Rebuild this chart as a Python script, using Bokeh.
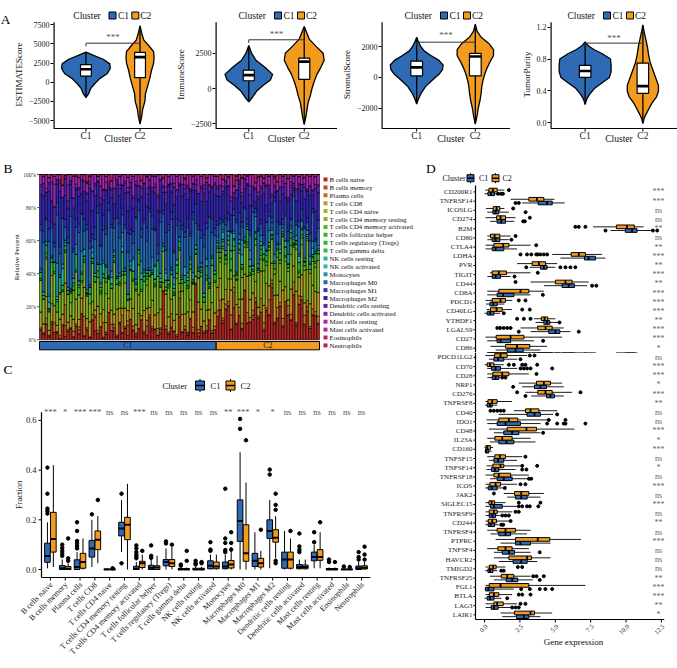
import math
import colorsys
from bokeh.plotting import figure
from bokeh.models import ColumnDataSource, FixedTicker, Range1d, NumeralTickFormatter
from bokeh.core.properties import value
from bokeh.layouts import row, column
from bokeh.embed import file_html
from bokeh.resources import INLINE

FONT = "Liberation Serif"
BLUE = "#2E6BB4"
ORANGE = "#F29B1F"
SIGC = "#555555"

# ============================ DATA ============================
clusters = ["C1", "C2"]

# ---- Panel A: violin outlines (level, half width) and box stats (lo, q1, med, q3, hi)
est_c1_lvl = [-2000, -1500, -800, -200, 500, 1100, 1800, 2400, 3000, 3500, 3930]
est_c1_hw = [0, 0.05, 0.09, 0.16, 0.26, 0.39, 0.45, 0.44, 0.32, 0.14, 0]
est_c2_lvl = [-5480, -4500, -3500, -2500, -1500, -500, 500, 1500, 2500, 3300, 4000, 4800, 5500, 6300, 7400]
est_c2_hw = [0, 0.03, 0.05, 0.09, 0.10, 0.14, 0.18, 0.21, 0.25, 0.26, 0.25, 0.16, 0.07, 0.035, 0]
est_box_c1 = [-1900, 800, 1700, 2300, 3900]
est_box_c2 = [-5300, 600, 3280, 3900, 7200]

imm_c1_lvl = [-950, -600, -200, 200, 600, 1000, 1500, 2000, 2500, 3045]
imm_c1_hw = [0, 0.07, 0.14, 0.25, 0.39, 0.43, 0.29, 0.13, 0.05, 0]
imm_c2_lvl = [-2550, -2000, -1500, -1000, -500, 0, 500, 1000, 1500, 2000, 2500, 3000, 3500, 4000, 4390]
imm_c2_hw = [0, 0.03, 0.05, 0.07, 0.11, 0.14, 0.18, 0.23, 0.30, 0.36, 0.34, 0.21, 0.09, 0.04, 0]
imm_box_c1 = [-900, 550, 950, 1300, 3000]
imm_box_c2 = [-2500, 650, 1900, 2150, 4300]

str_c1_lvl = [-1730, -1400, -1000, -600, -200, 200, 500, 800, 1100, 1400, 1700, 2000, 2300, 2600]
str_c1_hw = [0, 0.03, 0.08, 0.15, 0.26, 0.38, 0.44, 0.45, 0.38, 0.25, 0.13, 0.07, 0.03, 0]
str_c2_lvl = [-3030, -2500, -2000, -1500, -1000, -600, -200, 200, 600, 1000, 1400, 1800, 2200, 2600, 3000, 3450]
str_c2_hw = [0, 0.03, 0.05, 0.08, 0.10, 0.11, 0.13, 0.16, 0.20, 0.25, 0.31, 0.31, 0.23, 0.10, 0.03, 0]
str_box_c1 = [-1650, 100, 650, 1050, 2550]
str_box_c2 = [-3000, 100, 1350, 1550, 3400]

pur_c1_lvl = [0.23, 0.30, 0.36, 0.43, 0.50, 0.57, 0.64, 0.72, 0.80, 0.87, 0.92, 0.97, 1.015]
pur_c1_hw = [0, 0.03, 0.08, 0.16, 0.29, 0.42, 0.45, 0.45, 0.44, 0.29, 0.15, 0.05, 0]
pur_c2_lvl = [-0.01, 0.05, 0.10, 0.17, 0.25, 0.33, 0.40, 0.47, 0.55, 0.65, 0.75, 0.85, 0.95, 1.05, 1.15, 1.23]
pur_c2_hw = [0, 0.02, 0.05, 0.10, 0.16, 0.24, 0.27, 0.27, 0.23, 0.18, 0.13, 0.10, 0.08, 0.05, 0.02, 0]
pur_box_c1 = [0.25, 0.57, 0.65, 0.72, 1.0]
pur_box_c2 = [0.0, 0.37, 0.46, 0.75, 1.22]

# ---- Panels B / C: immune cell types
cell_types = ["B cells naive", "B cells memory", "Plasma cells", "T cells CD8", "T cells CD4 naive",
              "T cells CD4 memory resting", "T cells CD4 memory activated", "T cells follicular helper",
              "T cells regulatory (Tregs)", "T cells gamma delta", "NK cells resting", "NK cells activated",
              "Monocytes", "Macrophages M0", "Macrophages M1", "Macrophages M2", "Dendritic cells resting",
              "Dendritic cells activated", "Mast cells resting", "Mast cells activated", "Eosinophils",
              "Neutrophils"]
b_cluster_sizes = [65, 38]
b_ticks = [0, 0.2, 0.4, 0.6, 0.8, 1.0]
c_ticks = [0, 0.2, 0.4, 0.6]

# per-sample composition (percent), 65 C1 samples then 38 C2 samples
b_naive = [5,3,8,2,12,4,6,1,10,3, 5,9,2,7,4,15,3,6,2,11, 5,4,8,1,3,24,6,5,2,9, 4,7,3,13,5,2,6,10,4,3,
           18,5,7,2,4,30,6,3,8,5, 2,11,4,6,3,9,5,41,2,7, 4,5,14,3,6,
           12,22,7,30,15,9,25,11,18,6, 35,13,8,20,28,10,14,5,23,16, 40,9,12,19,7,26,13,11,31,8, 17,24,10,14,6,21,12,9]
b_memory = [0,1,0,0,2,0,1,0,0,10, 0,1,0,0,3,0,0,1,0,0, 8,0,0,1,0,0,0,2,0,1, 0,0,7,0,0,1,0,0,0,6,
            0,1,0,0,2,0,0,0,1,0, 0,9,0,0,1,0,0,0,2,0, 0,1,0,0,0,
            0,0,1,0,0,0,12,0,0,1, 0,0,0,4,0,0,0,1,0,0, 3,0,0,0,1,0,0,0,0,1, 0,0,0,2,0,0,0,1]
plasma = [1,0,3,1,0,5,1,2,0,19, 1,0,4,1,2,0,15,1,0,3, 1,2,0,11,1,0,4,2,1,0, 10,1,3,0,2,1,8,0,1,4,
          2,1,0,3,1,0,2,1,9,0, 1,3,0,2,1,0,4,1,2,0, 1,3,0,1,2,
          3,7,1,5,2,12,4,1,6,3, 0,8,2,5,3,1,7,4,2,10, 3,1,6,2,4,0,5,3,9,1, 4,2,6,3,1,5,2,4]
cd8 = [8,5,11,3,14,9,6,12,7,20, 4,10,8,13,5,9,22,6,11,7, 3,15,8,10,5,12,9,6,17,8, 4,11,7,13,9,5,10,2,12,8,
       6,14,9,7,11,5,18,8,10,6, 12,4,9,7,13,8,11,5,16,9, 6,10,7,12,8,
       12,16,8,14,10,21,9,13,6,15, 11,28,8,17,12,4,14,10,19,9, 13,15,7,12,16,10,3,14,11,18, 9,13,8,15,12,20,10,14]
cd4_naive = [0,0,0,0,0,0,0,0,0,0, 0,0,0,0,0,0,0,0,0,0, 0,0,0,0,0,0,0,0,0,0, 0,0,0,0,0,0,0,0,0,0,
             0,0,0,0,0,0,0,0,0,0, 0,0,0,0,0,0,0,0,0,0, 0,0,0,0,0,
             0,0,0,0,0,0,0,0,0,0, 0,0,0,0,0,0,0,0,0,0, 0,0,0,0,0,0,0,0,0,0, 0,0,0,0,0,0,0,0]
cd4_rest = [16,14,19,12,22,17,13,18,15,28, 16,11,20,14,17,9,19,15,13,21, 16,18,12,24,15,17,14,30,16,13,
            19,15,7,18,14,20,16,12,17,15, 25,14,18,16,13,19,2,15,17,14, 21,16,12,18,15,13,20,16,14,17,
            11,19,15,16,18,
            18,12,21,25,15,9,20,17,34,13, 19,22,11,18,27,16,6,20,14,23, 18,12,21,10,30,17,15,19,13,24,
            0,18,21,14,16,20,12,19]
cd4_act = [0,0,1,0,10,0,0,1,0,0, 0,8,0,0,0,1,0,0,7,0, 0,0,1,0,6,0,0,0,0,1, 0,5,0,0,0,1,0,0,0,4,
           0,0,1,0,0,0,0,1,0,0, 3,0,0,0,1,0,0,0,0,2, 0,1,0,0,0,
           2,3,1,4,2,7,3,1,2,5, 3,2,0,3,4,1,2,6,3,2, 1,3,4,2,0,3,2,5,1,3, 2,4,3,1,2,3,2,4]
tfh = [1,0,2,1,0,1,10,0,1,2, 0,1,0,1,5,0,2,1,0,1, 0,4,1,0,2,1,0,1,0,1, 2,0,1,0,1,0,6,1,0,2,
       1,0,1,0,1,0,2,1,0,1, 0,1,4,0,1,2,0,1,0,1, 0,2,1,0,1,
       1,0,2,1,0,1,5,0,1,1, 0,2,1,0,1,0,3,1,0,1, 2,0,1,0,1,1,0,4,1,0, 1,2,0,1,0,1,1,0]
tregs = [3,2,4,1,3,5,2,11,3,4, 2,1,3,8,2,4,3,1,5,2, 3,4,2,3,6,1,3,2,4,3, 11,2,3,1,4,3,2,5,3,2,
         4,1,3,7,2,3,4,2,3,1, 5,3,2,4,3,2,1,3,4,2, 3,6,2,3,4,
         2,4,1,3,2,9,1,3,4,2, 1,10,3,2,4,1,2,3,5,2, 1,3,2,4,1,6,2,3,1,2, 4,3,2,1,3,2,4,2]
gamma_delta = [0,0,0,0,0,0,0,0,0,0, 0,0,2,0,0,0,0,0,0,0, 0,0,0,0,0,0,0,1,0,0, 0,0,0,0,0,0,0,0,0,0,
               0,0,0,0,0,0,0,0,0,2, 0,0,0,0,0,0,0,0,0,0, 0,0,0,0,0,
               0,0,0,0,0,7,0,0,0,0, 0,0,0,0,0,0,0,0,3,0, 0,0,0,0,0,0,0,0,0,0, 0,0,1,0,0,0,0,0]
nk_rest = [0,0,0,0,0,0,0,0,0,3, 0,0,0,0,0,0,0,0,0,0, 0,0,2,0,0,0,0,0,0,0, 0,0,0,0,0,0,0,0,2,0,
           0,0,0,0,0,0,0,0,0,0, 0,0,0,0,0,0,1,0,0,0, 0,0,0,0,0,
           0,0,0,0,0,0,0,0,0,0, 0,0,3,0,0,0,0,0,0,0, 0,0,0,0,0,0,0,2,0,0, 0,0,0,0,0,0,0,0]
nk_act = [1,2,0,4,1,0,3,1,11,2, 0,1,3,0,2,1,5,0,1,3, 2,0,1,8,1,0,4,2,1,0, 3,1,0,2,6,1,0,3,1,2,
          0,1,8,0,2,1,4,0,1,2, 3,0,1,5,2,0,1,3,1,0, 2,4,1,0,2,
          1,0,3,1,2,0,4,1,0,6, 1,2,0,3,1,0,2,5,1,0, 3,1,0,2,1,4,0,1,2,0, 3,1,0,2,1,5,0,1]
monocytes = [1,0,2,4,1,0,32,1,3,0, 2,1,0,5,1,12,0,2,1,3, 0,1,11,2,0,1,4,1,0,2, 8,1,0,3,1,2,0,6,1,0,
             2,7,1,0,3,1,2,0,1,4, 0,2,1,0,3,1,5,0,1,2, 0,1,3,1,0,
             2,3,1,4,0,15,2,1,3,9, 2,0,4,1,11,2,3,1,0,8, 2,4,1,3,2,0,5,1,2,3, 1,4,2,0,3,6,1,2]
mac_m0 = [19,28,11,35,22,8,47,15,30,12, 25,60,18,9,33,21,14,40,26,5, 19,31,11,23,16,57,28,13,38,20,
          10,24,29,17,7,36,21,12,27,19, 45,15,22,3,30,18,11,26,33,14, 20,0,24,17,29,9,38,16,22,13,
          27,19,42,10,21,
          6,18,3,25,5,1,12,35,4,8, 20,2,7,52,3,15,6,0,22,9, 4,30,5,11,2,17,7,3,28,6, 13,1,19,4,8,24,5,10]
mac_m1 = [3,6,1,8,4,2,12,5,0,7, 3,15,2,4,6,1,9,3,5,2, 7,4,1,11,3,6,2,5,0,8, 4,2,13,3,6,1,5,4,2,9,
          3,7,1,4,6,2,10,3,5,1, 4,8,2,3,6,1,5,14,2,4, 7,3,1,6,4,
          2,4,1,7,3,0,5,2,16,3, 1,4,2,6,3,1,2,5,0,3, 4,2,7,1,3,2,5,1,4,2, 3,6,1,2,4,3,1,5]
mac_m2 = [15,20,13,24,16,10,18,40,14,22, 17,12,28,15,19,11,21,16,38,13, 18,15,25,12,20,14,17,9,22,16,
          13,19,15,27,12,18,1,16,21,14, 17,13,23,15,19,11,16,20,14,26, 13,17,15,22,12,18,16,10,19,15,
          24,14,17,13,20,
          13,16,11,30,12,14,9,15,21,12, 13,26,11,16,5,14,12,24,13,15, 11,3,17,12,14,10,16,13,2,12,
          15,11,18,13,20,12,14,16]
dc_rest = [4,7,0,5,1,9,3,6,0,15, 4,2,7,1,5,8,0,4,3,11, 6,1,4,7,0,3,5,9,2,4, 0,6,13,3,5,1,7,4,0,8,
           5,2,4,6,0,3,7,1,5,10, 4,0,6,3,8,1,4,5,0,7, 3,12,4,1,6,
           4,8,1,5,0,12,3,6,2,4, 7,0,5,3,9,1,4,6,15,2, 5,3,0,7,4,10,1,5,3,6, 2,4,8,0,5,3,11,4]
dc_act = [1,0,2,1,14,0,1,2,0,1, 9,1,0,2,1,0,8,1,2,0, 1,0,7,1,0,2,1,0,1,2, 0,1,3,0,1,2,0,1,0,4,
          1,0,2,1,0,1,3,0,1,2, 0,1,0,2,1,0,1,3,0,1, 2,0,1,0,1,
          1,0,2,1,0,3,1,0,1,2, 0,1,4,0,1,2,1,0,1,0, 2,1,0,1,3,0,1,2,0,1, 1,0,2,1,0,1,2,1]
mast_rest = [5,4,7,3,6,12,5,4,8,2, 6,5,15,4,7,3,5,6,4,9, 5,3,7,11,4,6,5,8,3,5, 6,4,7,5,10,4,6,3,5,7,
             4,6,5,9,3,5,7,4,6,5, 8,4,5,3,7,6,5,4,11,5, 6,3,7,5,4,
             5,8,3,6,4,19,5,7,4,9, 3,6,5,12,4,7,5,3,8,6, 15,4,5,7,3,6,10,4,5,8, 3,6,4,7,5,13,4,6]
mast_act = [0,0,0,0,0,4,0,0,0,0, 0,0,0,0,0,0,0,1,0,0, 0,0,0,0,3,0,0,0,0,0, 0,0,0,0,0,0,0,0,0,1,
            0,0,0,0,0,0,0,0,0,0, 0,0,0,1,0,0,0,0,0,0, 0,0,0,0,0,
            0,0,0,0,0,0,0,3,0,0, 0,0,0,0,0,0,0,0,0,0, 0,1,0,0,0,0,0,0,0,0, 0,0,0,0,0,0,0,0]
eosinophils = [0,0,0,0,0,0,0,0,0,0, 0,0,0,1,0,0,0,0,0,0, 0,0,0,0,0,0,0,0,0,0, 0,0,0,0,0,0,0,0,0,0,
               0,1,0,0,0,0,0,0,0,0, 0,0,0,0,0,0,0,0,0,0, 0,0,0,0,0,
               0,0,0,0,0,0,0,0,0,0, 0,0,0,0,0,0,1,0,0,0, 0,0,0,0,0,0,0,0,0,0, 0,0,0,0,0,0,0,0]
neutrophils = [0,1,0,2,0,1,0,0,7,1, 0,0,1,0,2,0,0,5,1,0, 0,1,0,0,1,0,4,0,0,1, 0,0,2,0,1,0,0,3,0,1,
               0,0,1,0,0,2,0,1,0,0, 1,0,0,2,0,0,1,0,0,1, 0,2,0,0,1,
               1,0,2,0,1,0,9,1,0,2, 0,1,0,0,6,1,0,2,0,1, 0,1,4,0,1,0,2,0,1,0, 1,0,2,0,1,0,1,0]

# ---- Panel C: box stats (q1, med, q3, lo, hi) and outliers per cell type
c_c1_box = [(0.029,0.054,0.106,0.005,0.19), (0.0,0.005,0.016,0.0,0.04), (0.0,0.01,0.039,0.0,0.07),
            (0.05,0.085,0.117,0.01,0.2), (0.0,0.0,0.002,0.0,0.004), (0.135,0.165,0.19,0.07,0.28),
            (0.0,0.003,0.013,0.0,0.03), (0.0,0.007,0.017,0.0,0.04), (0.015,0.03,0.04,0.0,0.085),
            (0.0,0.0,0.004,0.0,0.008), (0.0,0.0,0.005,0.0,0.012), (0.003,0.015,0.035,0.0,0.06),
            (0.003,0.012,0.03,0.0,0.06), (0.113,0.195,0.28,0.0,0.472), (0.012,0.035,0.065,0.0,0.15),
            (0.125,0.155,0.2,0.005,0.28), (0.005,0.04,0.07,0.0,0.155), (0.003,0.01,0.02,0.0,0.04),
            (0.035,0.05,0.07,0.005,0.10), (0.0,0.0,0.004,0.0,0.008), (0.0,0.0,0.002,0.0,0.004),
            (0.0,0.005,0.014,0.0,0.03)]
c_c2_box = [(0.07,0.123,0.23,0.01,0.42), (0.0,0.003,0.012,0.0,0.025), (0.005,0.03,0.065,0.0,0.125),
            (0.08,0.12,0.155,0.025,0.215), (0.0,0.0,0.002,0.0,0.004), (0.12,0.18,0.21,0.0,0.345),
            (0.008,0.025,0.033,0.0,0.06), (0.0,0.008,0.015,0.0,0.055), (0.012,0.025,0.04,0.0,0.09),
            (0.0,0.0,0.004,0.0,0.008), (0.0,0.0,0.005,0.0,0.01), (0.003,0.012,0.03,0.0,0.06),
            (0.006,0.02,0.036,0.0,0.09), (0.033,0.065,0.18,0.0,0.35), (0.01,0.025,0.045,0.0,0.075),
            (0.11,0.128,0.16,0.045,0.215), (0.005,0.04,0.07,0.0,0.125), (0.003,0.01,0.018,0.0,0.04),
            (0.037,0.05,0.08,0.005,0.15), (0.0,0.0,0.004,0.0,0.008), (0.0,0.0,0.002,0.0,0.004),
            (0.002,0.007,0.015,0.0,0.03)]
c_c1_out = [[0.41,0.305,0.245,0.235,0.225], [0.10,0.087,0.075,0.065,0.055], [0.19,0.155,0.115,0.105,0.095,0.085],
            [0.222], [], [0.305,0.025], [0.097,0.085,0.07,0.06,0.052,0.045], [0.097,0.055,0.047],
            [0.113,0.105], [0.02,0.015], [0.035,0.025,0.02], [0.11,0.08,0.075], [0.325,0.125,0.107,0.078,0.07],
            [0.606,0.566], [], [0.402,0.382], [], [0.145,0.093,0.08,0.07], [0.15,0.11], [0.04,0.03],
            [0.012], [0.07,0.05,0.04]]
c_c2_out = [[], [0.125,0.045,0.035], [], [0.28], [0.005], [], [0.075], [], [0.1], [0.075,0.035],
            [0.03,0.025], [], [0.15,0.107,0.08], [0.52], [0.16], [0.305,0.26,0.24,0.035,0.025], [0.155],
            [], [0.19], [0.03], [0.01], [0.092,0.06,0.04]]
c_sig = ["***","*","***","***","ns","ns","***","ns","ns","ns","ns","ns","**","***","*","*",
         "ns","ns","ns","ns","ns","ns"]

# ---- Panel D: immune checkpoint genes (top to bottom)
genes = ["CD200R1","TNFRSF14","ICOSLG","CD274","B2M","CD80","CTLA4","LDHA","PVR","TIGIT","CD44","CD8A",
         "PDCD1","CD40LG","YTHDF1","LGALS9","CD27","CD86","PDCD1LG2","CD70","CD28","NRP1","CD276",
         "TNFRSF8","CD40","IDO1","CD48","IL23A","CD160","TNFSF15","TNFSF14","TNFRSF18","ICOS","JAK2",
         "SIGLEC15","TNFRSF9","CD244","TNFRSF4","PTPRC","TNFSF4","HAVCR2","TMIGD2","TNFRSF25","FGL1",
         "BTLA","LAG3","LAIR1"]
d_ticks = [0, 2.5, 5, 7.5, 10, 12.5]
d_c2_box = [(0.31,0.59,0.89,0.05,1.40), (3.13,3.70,4.19,1.84,4.94), (0.61,0.85,1.08,0.10,1.40),
            (0.85,1.13,1.48,0.07,2.19), (9.32,10.07,10.59,7.67,11.25), (0.42,0.71,1.08,0.19,1.84),
            (0.66,1.32,1.72,0.07,3.25), (6.12,6.66,7.13,4.78,8.30), (3.36,3.84,4.31,2.30,5.13),
            (0.54,1.01,1.55,0.38,3.25), (5.01,5.72,6.19,3.25,7.36), (1.01,2.54,3.13,0.19,4.19),
            (0.54,1.13,1.48,0.07,1.95), (0.42,0.85,1.25,0.14,1.95), (4.02,4.24,4.47,3.50,5.00),
            (3.76,4.31,4.78,2.54,5.60), (0.82,1.84,2.78,0.07,5.48), (1.48,2.30,3.20,0.42,4.42),
            (0.71,1.13,1.60,0.07,3.00), (0.19,0.38,0.66,0.00,1.36), (0.59,1.25,1.72,0.19,3.13),
            (3.67,4.19,4.66,2.42,5.48), (3.76,4.31,4.78,2.89,6.19), (0.24,0.54,0.89,0.07,1.95),
            (2.89,3.25,3.84,2.07,5.13), (1.01,1.72,2.35,0.14,4.47), (1.60,2.96,3.67,0.31,6.35),
            (0.73,1.25,1.95,0.19,3.25), (0.09,0.20,0.42,0.00,0.60), (0.73,1.08,1.48,0.19,2.66),
            (0.59,1.13,1.36,0.14,2.54), (0.66,1.01,1.84,0.07,3.13), (0.38,0.78,1.13,0.07,2.30),
            (2.12,2.59,3.13,1.36,4.19), (0.31,0.50,0.71,0.07,1.48), (0.33,0.66,0.89,0.07,1.95),
            (0.26,0.54,0.85,0.07,1.72), (0.89,1.48,2.19,0.19,3.25), (2.19,3.76,4.61,0.78,6.82),
            (0.94,1.48,1.95,0.19,3.13), (1.72,3.01,3.32,0.66,4.66), (0.35,0.61,0.82,0.07,1.48),
            (1.18,1.60,2.07,0.38,3.25), (0.33,1.13,3.13,0.07,7.13), (0.33,0.66,1.01,0.07,1.95),
            (0.66,0.89,1.32,0.07,2.30), (2.12,3.25,3.53,1.13,4.78)]
d_c1_box = [(0.24,0.45,0.70,0.00,0.90), (3.79,4.42,4.78,2.66,5.67), (0.59,0.78,1.01,0.20,1.72),
            (0.89,1.18,1.48,0.40,2.10), (9.95,10.42,10.78,8.90,11.80), (0.54,0.78,1.08,0.20,1.72),
            (0.54,0.78,1.36,0.07,2.30), (7.06,7.36,7.84,5.36,8.54), (3.95,4.19,4.42,3.20,5.00),
            (0.54,0.78,1.13,0.20,1.84), (5.48,5.95,6.35,4.20,7.25), (0.89,1.32,2.07,0.19,3.25),
            (0.38,0.61,0.89,0.10,1.40), (0.19,0.40,0.66,0.00,1.10), (4.19,4.42,4.61,3.60,5.25),
            (4.54,5.01,5.32,3.25,6.07), (0.89,1.13,1.84,0.19,3.50), (1.60,2.19,2.73,0.78,3.95),
            (0.66,0.96,1.36,0.31,2.30), (0.49,0.78,1.13,0.19,2.30), (0.54,0.78,1.01,0.20,1.10),
            (3.53,3.95,4.38,2.66,5.60), (4.38,4.66,4.94,3.30,5.60), (0.19,0.38,0.54,0.05,0.90),
            (3.00,3.53,3.95,1.00,4.85), (0.89,1.48,2.54,0.19,3.95), (1.36,1.95,2.42,0.66,3.95),
            (1.01,1.55,2.07,0.38,3.60), (0.07,0.12,0.30,0.00,0.50), (0.66,0.96,1.36,0.31,2.30),
            (0.49,0.73,1.01,0.14,2.19), (0.89,1.36,1.95,0.38,3.00), (0.26,0.50,0.89,0.05,1.30),
            (2.19,2.59,3.01,1.60,3.95), (0.42,0.66,1.25,0.07,2.30), (0.33,0.56,0.78,0.07,1.10),
            (0.26,0.42,0.70,0.05,1.00), (1.01,1.48,1.84,0.42,3.00), (2.19,2.54,3.25,1.13,4.66),
            (1.25,1.72,2.12,0.66,3.25), (2.02,2.59,3.01,1.01,3.72), (0.24,0.38,0.59,0.05,0.90),
            (1.53,1.95,2.35,0.66,3.40), (0.07,0.26,0.66,0.00,2.07), (0.19,0.38,0.66,0.00,1.20),
            (0.47,0.66,0.96,0.07,1.84), (2.26,2.78,3.13,1.25,3.95)]
d_c2_out = [[1.72], [], [2.02], [3.20], [6.42,6.66,7.13], [2.19], [3.65],
            [2.54,3.00,3.30,3.65,3.76,3.95,4.19,4.42], [], [3.76], [2.19], [], [2.42,2.89], [2.66,3.20],
            [2.30,2.78,3.25], [0.90,1.10,1.35,1.60,1.84], [], [], [3.20,3.53], [1.72,2.07,2.66,2.89,3.72],
            [3.67], [], [2.30,6.78], [], [0.42,0.66,0.90,1.13,1.36], [4.54,5.72], [], [], [], [2.89],
            [2.66,3.72], [], [2.54,2.89], [0.66], [2.42,3.95], [2.19,2.42], [1.84], [], [], [], [],
            [2.35,2.66], [3.44,3.67,4.19], [], [2.42,2.66,3.25], [2.54,2.89], []]
d_c1_out = [[0.95,1.15,1.30], [2.19,2.42], [2.90], [2.73,2.85], [8.55,11.90,12.20], [1.90], [], [],
            [2.95,5.36,5.72,6.07,6.42], [2.12], [7.60,7.90], [4.12], [], [1.36], [5.30], [2.42,6.66],
            [4.14], [], [2.54], [2.54,2.78,3.00,3.25,4.78], [1.25,1.48], [2.02], [2.89], [], [5.13],
            [4.42,5.13,5.60,5.72,7.13], [4.14], [], [], [], [2.66,2.96], [3.13,3.30], [1.43], [],
            [2.42,2.66,3.00,3.20,3.80], [1.25,1.48,1.72], [1.18,1.32], [], [], [3.90], [], [1.18,1.36],
            [3.90], [2.59,3.20,3.90,4.30,4.78], [1.60], [1.95,2.19,2.42], []]
d_sig = ["***","***","ns","ns","**","ns","**","***","**","***","**","***","***","***","**","***",
         "***","*","ns","***","***","*","***","**","ns","ns","***","*","***","ns","*","ns","***","ns",
         "***","ns","**","ns","***","ns","ns","ns","**","***","***","**","*"]

# ============================ HELPERS ============================
def style_axis(ax):
    ax.axis_line_color = None
    ax.major_tick_line_color = "black"
    ax.major_tick_line_width = 1
    ax.major_tick_in = 0
    ax.major_tick_out = 3
    ax.minor_tick_line_color = None
    ax.major_label_text_font = FONT
    ax.major_label_text_color = "#222222"
    ax.major_label_standoff = 1
    ax.axis_label_text_font = FONT
    ax.axis_label_text_font_style = "normal"
    ax.axis_label_text_color = "#111111"


def base_fig(w, h, xr, yr, ml, mr):
    # every frame spans the full figure height so the frames of a row line up exactly
    p = figure(width=w, height=h, x_range=Range1d(*xr), y_range=Range1d(*yr),
               output_backend="svg", toolbar_location=None,
               min_border_left=ml, min_border_right=mr, min_border_top=0, min_border_bottom=0)
    p.outline_line_color = None
    p.xgrid.visible = False
    p.ygrid.visible = False
    p.background_fill_color = "white"
    p.border_fill_color = "white"
    p.xaxis.visible = False
    style_axis(p.yaxis[0])
    return p


def mapper(L, R, T, B, xr, yr):
    """convert page pixel positions of the frame into data coordinates"""
    def X(px):
        return xr[0] + (px - L) / (R - L) * (xr[1] - xr[0])

    def Y(py):
        return yr[1] - (py - T) / (B - T) * (yr[1] - yr[0])
    return X, Y


def txt(p, xs, ys, texts, size, align="left", baseline="middle", color="#111111", angle=0):
    p.text(x=xs, y=ys, text=texts, text_font=value(FONT), text_font_size=size, angle=angle,
           text_align=align, text_baseline=baseline, text_color=color)


def letter_fig(h, letter, baseline_from_top):
    p = figure(width=10, height=h, x_range=Range1d(0, 10), y_range=Range1d(0, h),
               output_backend="svg", toolbar_location=None, min_border=0)
    p.xaxis.visible = False
    p.yaxis.visible = False
    p.xgrid.visible = False
    p.ygrid.visible = False
    p.outline_line_color = None
    p.border_fill_color = "white"
    txt(p, [0.2], [h - baseline_from_top], [letter], "13.5px", baseline="alphabetic", color="black")
    return p


def violin_fig(canvas_left, w, ml, xr, yr_fn, spine_top, ticks, overrides, fmt, ylabel,
               prof, boxes, brk, tip, star_y, clus_px):
    frame_l, frame_r = canvas_left + ml, canvas_left + w
    yr = (yr_fn(148), yr_fn(0))
    p = base_fig(w, 148, xr, yr, ml, 0)
    X, Y = mapper(frame_l, frame_r, 0, 148, xr, yr)
    y_ax = Y(128)
    p.segment([xr[0]], [y_ax], [xr[0]], [spine_top], line_color="black", line_width=2.4)
    p.segment([xr[0]], [y_ax], [xr[1]], [y_ax], line_color="black", line_width=1.2)
    for k in range(2):
        c = k + 1
        lvl, hw = prof[k]
        xs = [c - h for h in hw] + [c + h for h in reversed(hw)]
        ys = list(lvl) + list(reversed(lvl))
        p.patch(xs, ys, fill_color=[BLUE, ORANGE][k], line_color="black", line_width=1.3)
        lo, q1, med, q3, hi = boxes[k]
        p.segment([c], [lo], [c], [hi], line_color="black", line_width=1.3)
        p.quad(left=[c - 0.1], right=[c + 0.1], bottom=[q1], top=[q3], fill_color="white",
               line_color="black", line_width=1.2)
        p.segment([c - 0.1], [med], [c + 0.1], [med], line_color="black", line_width=2.6)
    p.segment([1, 1, 2], [brk, brk, brk], [2, 1, 2], [brk, brk - tip, brk - tip],
              line_color="#333333", line_width=1)
    txt(p, [1.5], [star_y], ["***"], "9px", align="center", color=SIGC)
    # x axis ticks, labels and title
    p.segment([1, 2], [y_ax, y_ax], [1, 2], [Y(131), Y(131)], line_color="black", line_width=1)
    txt(p, [1, 2], [Y(135.5), Y(135.5)], clusters, "9.5px", align="center", color="#222222")
    txt(p, [X((frame_l + frame_r) / 2 + 5)], [Y(138.5)], ["Cluster"], "9.5px", align="center")
    # legend  "Cluster [C1] [C2]"
    ly = Y(15)
    txt(p, [X(clus_px)], [ly], ["Cluster"], "9.5px")
    p.scatter([X(clus_px + 39.5), X(clus_px + 62.5)], [ly, ly], marker="square", size=7,
              fill_color=[BLUE, ORANGE], line_color="black", line_width=1)
    txt(p, [X(clus_px + 45), X(clus_px + 67.5)], [ly, ly], clusters, "9.5px")
    p.yaxis.ticker = FixedTicker(ticks=ticks)
    if fmt:
        p.yaxis.formatter = NumeralTickFormatter(format=fmt)
    if overrides:
        p.yaxis.major_label_overrides = overrides
    p.yaxis.major_label_text_font_size = "8px"
    p.yaxis.axis_label = ylabel
    p.yaxis.axis_label_text_font_size = "9px"
    p.yaxis.axis_label_standoff = 2
    return p

# ============================ PANEL A ============================
LA = letter_fig(148, "A", 19)
a1 = violin_fig(10, 162, 42, (0.4, 2.6), lambda py: 7500 - (py - 24.3) * 130.6, 7840,
                [-5000, -2500, 0, 2500, 5000, 7500], {-5000: "\u22125000", -2500: "\u22122500"}, None,
                "ESTIMATEScore", [(est_c1_lvl, est_c1_hw), (est_c2_lvl, est_c2_hw)],
                [est_box_c1, est_box_c2], 5100, 400, 5900, 72)
a2 = violin_fig(172, 165, 43, (0.4, 2.6), lambda py: 2500 - (py - 52.7) * 70.8, 4695,
                [-2500, 0, 2500], {-2500: "\u22122500"}, None, "ImmuneScore",
                [(imm_c1_lvl, imm_c1_hw), (imm_c2_lvl, imm_c2_hw)], [imm_box_c1, imm_box_c2],
                3450, 230, 3880, 238)
a3 = violin_fig(337, 173, 44, (0.4, 2.6), lambda py: 2000 - (py - 46) * 64.8, 3575,
                [-2000, 0, 2000], {-2000: "\u22122000"}, None, "StromalScore",
                [(str_c1_lvl, str_c1_hw), (str_c2_lvl, str_c2_hw)], [str_box_c1, str_box_c2],
                2280, 200, 2760, 404)
a4 = violin_fig(510, 167, 40, (0.4, 2.6), lambda py: 1.2 - (py - 26.7) * 0.01255, 1.263,
                [0, 0.4, 0.8, 1.2], None, "0.0", "TumorPurity",
                [(pur_c1_lvl, pur_c1_hw), (pur_c2_lvl, pur_c2_hw)], [pur_box_c1, pur_box_c2],
                1.0, 0.04, 1.06, 567)

# ============================ PANEL B ============================
b_cols = [b_naive, b_memory, plasma, cd8, cd4_naive, cd4_rest, cd4_act, tfh, tregs, gamma_delta,
          nk_rest, nk_act, monocytes, mac_m0, mac_m1, mac_m2, dc_rest, dc_act, mast_rest, mast_act,
          eosinophils, neutrophils]
n_samp = sum(b_cluster_sizes)
for col in b_cols:
    assert len(col) == n_samp, len(col)
totals = [sum(col[i] for col in b_cols) for i in range(n_samp)]
b_src = {"x": list(range(1, n_samp + 1))}
keys = []
for k, col in enumerate(b_cols):
    b_src["t%d" % k] = [col[i] / totals[i] for i in range(n_samp)]
    keys.append("t%d" % k)

cell_colors = []
for i in range(len(cell_types)):
    r_, g_, b_ = colorsys.hsv_to_rgb(i / 22, 0.80, 0.72)
    cell_colors.append("#%02x%02x%02x" % (int(r_ * 255), int(g_ * 255), int(b_ * 255)))

SPLIT_X = 425
b_px = (319 - 39) / n_samp
B_XR = (0.5 - 39 / b_px, n_samp + 0.5 + (SPLIT_X - 319) / b_px)
B_YR = (-(352 - 339.3) / 165.3, 1 + (174 - 148) / 165.3)
pB = base_fig(SPLIT_X, 204, B_XR, B_YR, 0, 0)
pB.yaxis.visible = False
XB, YB = mapper(0, SPLIT_X, 148, 352, B_XR, B_YR)
pB.vbar_stack(keys, x="x", width=1.0, fill_color=cell_colors, line_color="black",
              line_width=0.6, source=ColumnDataSource(b_src))
edges = [0.5, 0.5 + b_cluster_sizes[0], 0.5 + n_samp]
pB.quad(left=edges[:2], right=edges[1:], bottom=-0.0605, top=-0.0103,
        fill_color=[BLUE, ORANGE], line_color="black", line_width=1)
txt(pB, [(edges[0] + edges[1]) / 2, (edges[1] + edges[2]) / 2], [-0.0354, -0.0354], clusters,
    "8px", align="center", color="#222222")
# y axis of panel B: ticks, percent labels and title
nb = len(b_ticks)
pB.segment([XB(36.5)] * nb, b_ticks, [XB(39)] * nb, b_ticks, line_color="#333333", line_width=0.8)
txt(pB, [XB(35.5)] * nb, b_ticks, ["%d%%" % round(t * 100) for t in b_ticks], "5.5px", align="right",
    color="#333333")
txt(pB, [XB(16.5)], [0.5], ["Relative Percent"], "7px", align="center", angle=math.pi / 2)
leg_y = [YB(179 + k * 7.9) for k in range(len(cell_types))]
pB.scatter([XB(325)] * len(cell_types), leg_y, marker="square", size=4, fill_color=cell_colors,
           line_color=None)
txt(pB, [XB(329)] * len(cell_types), leg_y, cell_types, "6.8px")
txt(pB, [XB(3)], [YB(168)], ["B"], "13.5px", baseline="alphabetic", color="black")

# ============================ PANEL C ============================
nC = len(cell_types)
c_px = (370 - 41) / (nC + 0.2)
C_XR = (0.4 - 41 / c_px, nC + 0.6)
C_YR = (-(660 - 569) / 248.5, (569 - 352) / 248.5)
pC = base_fig(SPLIT_X, 308, C_XR, C_YR, 0, SPLIT_X - 370)
pC.yaxis.visible = False
XC, YC = mapper(0, 370, 352, 660, C_XR, C_YR)
c_ax = YC(577)
pC.segment([0.4], [c_ax], [0.4], [0.633], line_color="black", line_width=1.2)
pC.segment([0.4], [c_ax], [C_XR[1]], [c_ax], line_color="black", line_width=1.2)
for k, (boxes, outs, off, colr) in enumerate([(c_c1_box, c_c1_out, -0.2, BLUE),
                                              (c_c2_box, c_c2_out, 0.2, ORANGE)]):
    xs = [i + 1 + off for i in range(nC)]
    q1 = [b[0] for b in boxes]; med = [b[1] for b in boxes]; q3 = [b[2] for b in boxes]
    lo = [b[3] for b in boxes]; hi = [b[4] for b in boxes]
    pC.segment(xs, lo, xs, hi, line_color="black", line_width=1)
    pC.vbar(x=xs, width=0.38, bottom=q1, top=q3, fill_color=colr, line_color="black", line_width=1)
    pC.segment([x - 0.19 for x in xs], med, [x + 0.19 for x in xs], med, line_color="black",
               line_width=2)
    ox = [xs[i] for i in range(nC) for v in outs[i]]
    oy = [v for i in range(nC) for v in outs[i]]
    pC.scatter(ox, oy, size=3.5, color="black")
cx = list(range(1, nC + 1))
pC.segment(cx, [c_ax] * nC, cx, [YC(580)] * nC, line_color="black", line_width=1)
txt(pC, [x + 0.07 for x in cx], [YC(583)] * nC, cell_types, "8px", align="right",
    color="#222222", angle=math.pi / 4)
# y axis of panel C
nct = len(c_ticks)
pC.segment([XC(38)] * nct, c_ticks, [0.4] * nct, c_ticks, line_color="black", line_width=1)
txt(pC, [XC(36)] * nct, c_ticks, ["%.1f" % t for t in c_ticks], "8.5px", align="right",
    color="#222222")
txt(pC, [XC(18)], [0.3], ["Fraction"], "8.5px", align="center", angle=math.pi / 2)
txt(pC, [XC(3)], [YC(369)], ["C"], "13.5px", baseline="alphabetic", color="black")
txt(pC, cx, [0.6318] * nC, c_sig, "8.5px", align="center", baseline="alphabetic", color=SIGC)
cy = YC(385)
txt(pC, [XC(162)], [cy], ["Cluster"], "8.5px")
icon_x = [XC(199.5), XC(230)]
pC.scatter(icon_x, [cy, cy], marker="dash", angle=math.pi / 2, size=13, line_color="black", line_width=1)
pC.scatter(icon_x, [cy, cy], marker="square", size=9, fill_color=[BLUE, ORANGE], line_color="black",
           line_width=1)
pC.scatter(icon_x, [cy, cy], marker="dash", size=9, line_color="black", line_width=1.6)
txt(pC, [XC(210), XC(240)], [cy, cy], clusters, "8.5px")

# ============================ PANEL D ============================
nG = len(genes)
assert len(d_c1_box) == nG and len(d_c2_box) == nG and len(d_c1_out) == nG and len(d_c2_out) == nG
assert len(d_sig) == nG
ypos = [nG - i for i in range(nG)]
D_SPLIT = 29.53
D_L, D_R = 475, 664
d_px = (D_R - D_L) / (12.72 + 0.64)
D_XR = (-0.64 - (D_L - SPLIT_X) / d_px, 12.72)


def draw_d(p, X, keep):
    for k, (boxes, outs, off, colr) in enumerate([(d_c1_box, d_c1_out, -0.2, BLUE),
                                                  (d_c2_box, d_c2_out, 0.2, ORANGE)]):
        ys = [y + off for y in ypos]
        q1 = [b[0] for b in boxes]; med = [b[1] for b in boxes]; q3 = [b[2] for b in boxes]
        lo = [b[3] for b in boxes]; hi = [b[4] for b in boxes]
        p.segment(lo, ys, hi, ys, line_color="black", line_width=0.9)
        p.hbar(y=ys, height=0.4, left=q1, right=q3, fill_color=colr, line_color="black", line_width=1)
        p.segment(med, [y - 0.2 for y in ys], med, [y + 0.2 for y in ys], line_color="black",
                  line_width=1.8)
        ox = [v for i in range(nG) for v in outs[i]]
        oy = [ys[i] for i in range(nG) for v in outs[i]]
        p.scatter(ox, oy, size=3, color="black")
    sel = [i for i in range(nG) if keep(ypos[i])]
    sy = [ypos[i] for i in sel]
    txt(p, [12.3] * len(sel), sy, [d_sig[i] for i in sel], "8px", align="center", color="#666666")
    # gene axis: ticks and labels
    p.segment([X(473)] * len(sel), sy, [-0.64] * len(sel), sy, line_color="black", line_width=1)
    txt(p, [X(472)] * len(sel), sy, [genes[i] for i in sel], "7px", align="right", color="#222222")
    p.yaxis.visible = False


D1_YR = (D_SPLIT, 47.7 + 37 / 9.195)
pD1 = base_fig(677 - SPLIT_X, 204, D_XR, D1_YR, 0, 677 - D_R)
XD, YD = mapper(SPLIT_X, D_R, 148, 352, D_XR, D1_YR)
draw_d(pD1, XD, lambda y: y > D_SPLIT)
pD1.segment([-0.64], [D_SPLIT], [-0.64], [47.7], line_color="black", line_width=1.2)
dy = YD(177.7)
txt(pD1, [XD(442)], [dy], ["Cluster"], "8px")
dicon = [XD(470), XD(495)]
pD1.scatter(dicon, [dy, dy], marker="dash", angle=math.pi / 2, size=10, line_color="black", line_width=1)
pD1.scatter(dicon, [dy, dy], marker="square", size=7, fill_color=[BLUE, ORANGE], line_color="black",
            line_width=1)
pD1.scatter(dicon, [dy, dy], marker="dash", size=7, line_color="black", line_width=1.4)
txt(pD1, [XD(478.5), XD(502)], [dy, dy], clusters, "8px")
txt(pD1, [XD(425.5)], [YD(168)], ["D"], "13.5px", baseline="alphabetic", color="black")

D2_YR = (D_SPLIT - 308 / 9.195, D_SPLIT)
pD2 = base_fig(677 - SPLIT_X, 308, D_XR, D2_YR, 0, 677 - D_R)
XD2, YD2 = mapper(SPLIT_X, D_R, 352, 660, D_XR, D2_YR)
draw_d(pD2, XD2, lambda y: y < D_SPLIT)
d_ax = YD2(619)
pD2.segment([-0.64], [d_ax], [-0.64], [D_SPLIT], line_color="black", line_width=1.2)
pD2.segment([-0.64], [d_ax], [D_XR[1]], [d_ax], line_color="black", line_width=1.2)
pD2.segment(d_ticks, [d_ax] * len(d_ticks), d_ticks, [YD2(622)] * len(d_ticks), line_color="black",
            line_width=1)
txt(pD2, [t + 0.15 for t in d_ticks], [YD2(625)] * len(d_ticks), ["%.1f" % t for t in d_ticks], "6.5px",
    align="right", color="#222222", angle=math.pi / 4)
txt(pD2, [XD2(573)], [YD2(641)], ["Gene expression"], "9px", align="center")

layout = column(row(LA, a1, a2, a3, a4), row(pB, pD1), row(pC, pD2))
open("out.html", "w").write(file_html(layout, INLINE))
